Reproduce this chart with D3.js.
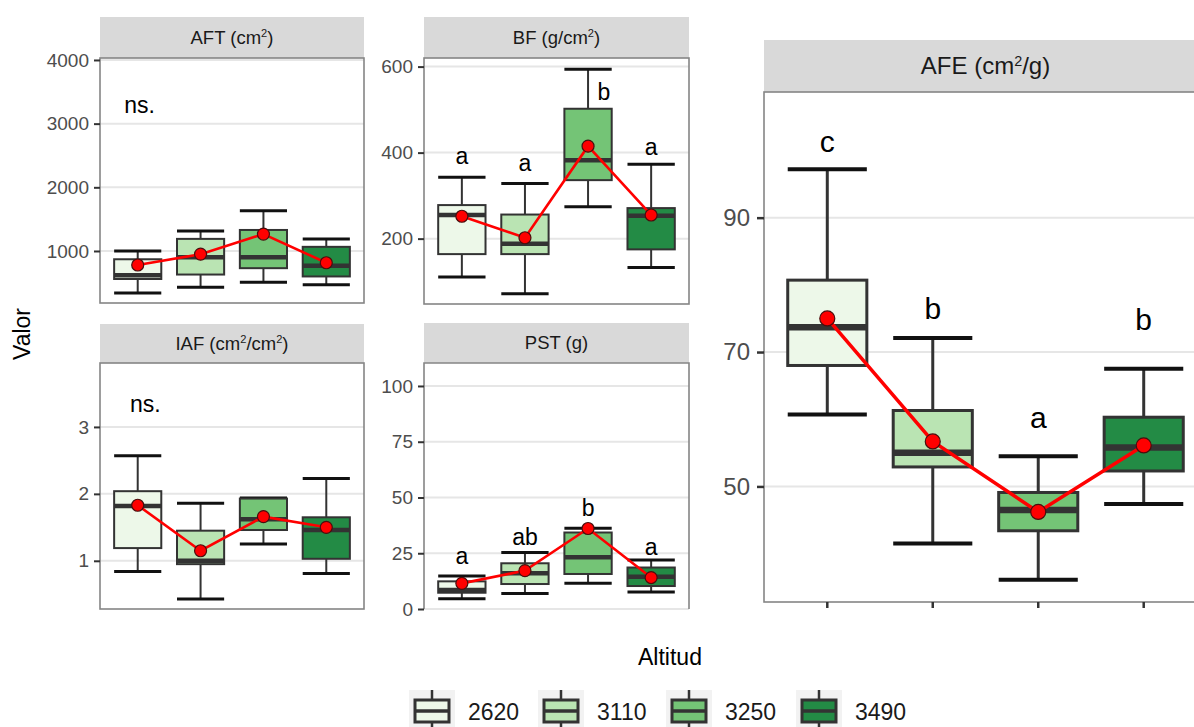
<!DOCTYPE html>
<html>
<head>
<meta charset="utf-8">
<script src="https://cdn.jsdelivr.net/npm/d3@7"></script>
<style>
  body { margin: 0; background: #fff; }
  svg { display: block; font-family: "Liberation Sans", Arial, sans-serif; }
</style>
</head>
<body>
<svg id="chart" width="1194" height="727"></svg>
<script>
// data

var altitudes = ["2620", "3110", "3250", "3490"];
var greens = ["#edf8e9", "#bae4b3", "#74c476", "#238b45"];

// one row per altitude: [whisker low, q1, median, q3, whisker high, mean]
var aftBoxes = [[340, 560, 620, 870, 1000, 780], [430, 630, 900, 1190, 1315, 950],
                [510, 730, 900, 1330, 1630, 1265], [470, 600, 770, 1065, 1190, 815]];
var bfBoxes  = [[111, 164, 255, 278, 343, 252], [72, 164, 188, 256, 328, 202],
                [274, 336, 382, 502, 594, 415], [133, 175, 253, 271, 373, 255]];
var iafBoxes = [[0.84, 1.19, 1.82, 2.04, 2.57, 1.83], [0.43, 0.95, 1.0, 1.45, 1.86, 1.15],
                [1.25, 1.46, 1.62, 1.93, 1.94, 1.66], [0.81, 1.03, 1.46, 1.65, 2.23, 1.50]];
var pstBoxes = [[4.6, 7.3, 8.5, 12.4, 14.8, 11.5], [7.0, 11.2, 16.0, 20.5, 25.3, 17.2],
                [11.5, 15.7, 23.2, 34.3, 36.2, 36.1], [7.6, 10.3, 14.5, 18.6, 22.0, 14.1]];
var afeBoxes = [[60.7, 68.0, 73.7, 80.7, 97.2, 75.0], [41.5, 52.9, 55.0, 61.3, 72.1, 56.7],
                [36.1, 43.4, 46.5, 49.1, 54.5, 46.2], [47.4, 52.3, 55.8, 60.3, 67.5, 56.1]];

// significance letters (x in group units, y in data units)
var bfLetters  = ["a", "a", "b", "a"];
var bfLetterX  = [1, 2, 3.25, 4];
var bfLetterY  = [392, 376, 541, 413];
var pstLetters = ["a", "ab", "b", "a"];
var pstLetterX = [1, 2, 3, 4];
var pstLetterY = [23.9, 32.4, 45.3, 27.8];
var afeLetters = ["c", "b", "a", "b"];
var afeLetterX = [1, 2, 3, 4];
var afeLetterY = [101.3, 76.5, 60.2, 74.8];
var aftNote = {text: "ns.", x: 1.03, y: 3300};
var iafNote = {text: "ns.", x: 1.12, y: 3.34};

// tick labels
var aftTicks = [1000, 2000, 3000, 4000];
var bfTicks  = [200, 400, 600];
var iafTicks = [1, 2, 3];
var pstTicks = [0, 25, 50, 75, 100];
var afeTicks = [50, 70, 90];

// layout

var svg = d3.select("#chart");

var small = {tick: 19, strip: 18.5, letter: 23, box: 2, med: 4.5, cap: 3, line: 2.6, r: 6};
var big   = {tick: 24, strip: 24, letter: 30, box: 3, med: 6.5, cap: 4, line: 3.5, r: 7.5};

var panels = [
  {title: ["AFT (cm", "2", ")"], boxes: aftBoxes, ticks: aftTicks, domain: [183, 4031],
   left: 100, right: 364, stripTop: 17, top: 58, bottom: 303, st: small, note: aftNote},
  {title: ["BF (g/cm", "2", ")"], boxes: bfBoxes, ticks: bfTicks, domain: [48, 620],
   left: 424, right: 689, stripTop: 17, top: 58, bottom: 304, st: small,
   letters: bfLetters, lx: bfLetterX, ly: bfLetterY},
  {title: ["IAF (cm", "2", "/cm", "2", ")"], boxes: iafBoxes, ticks: iafTicks, domain: [0.28, 3.955],
   left: 100, right: 364, stripTop: 324, top: 363, bottom: 609, st: small, note: iafNote},
  {title: ["PST (g)"], boxes: pstBoxes, ticks: pstTicks, domain: [0, 110.3],
   left: 424, right: 689, stripTop: 323, top: 363, bottom: 609, st: small, noBottom: true,
   letters: pstLetters, lx: pstLetterX, ly: pstLetterY},
  {title: ["AFE (cm", "2", "/g)"], boxes: afeBoxes, ticks: afeTicks, domain: [32.8, 108.7],
   left: 764, right: 1207, stripTop: 40, top: 92, bottom: 602, st: big, xTicks: true,
   letters: afeLetters, lx: afeLetterX, ly: afeLetterY}
];

function drawPanel(p) {
  var g = svg.append("g");
  var st = p.st;

  var x = d3.scaleLinear().domain([0.4, 4.6]).range([p.left, p.right]);
  var y = d3.scaleLinear().domain(p.domain).range([p.bottom, p.top]);
  var bw = x(1.75) - x(1);

  // strip
  g.append("rect")
    .attr("x", p.left).attr("y", p.stripTop)
    .attr("width", p.right - p.left).attr("height", p.top - p.stripTop)
    .style("fill", "#d9d9d9");

  var title = g.append("text")
    .attr("x", (p.left + p.right) / 2)
    .attr("y", (p.stripTop + p.top) / 2)
    .attr("dy", "0.35em")
    .attr("text-anchor", "middle")
    .style("font-size", st.strip + "px")
    .style("fill", "#1a1a1a");
  p.title.forEach(function(s) {
    var sup = (s === "2");
    title.append("tspan")
      .attr("baseline-shift", sup ? "60%" : null)
      .style("font-size", sup ? (st.strip * 0.6) + "px" : null)
      .text(s);
  });

  // grid
  g.selectAll(".grid").data(p.ticks).enter().append("line")
    .attr("x1", p.left).attr("x2", p.right)
    .attr("y1", d => y(d)).attr("y2", d => y(d))
    .style("stroke", "#e6e6e6").style("stroke-width", 2);

  // border
  if (p.noBottom) {
    g.append("path")
      .attr("d", "M" + p.left + "," + p.bottom + "V" + p.top + "H" + p.right + "V" + p.bottom)
      .style("fill", "none").style("stroke", "#858585").style("stroke-width", 1.6);
  } else {
    g.append("rect")
      .attr("x", p.left).attr("y", p.top)
      .attr("width", p.right - p.left).attr("height", p.bottom - p.top)
      .style("fill", "none").style("stroke", "#858585").style("stroke-width", 1.6);
  }

  // y axis
  var yAxis = g.append("g")
    .attr("transform", "translate(" + p.left + ",0)")
    .call(d3.axisLeft(y).tickValues(p.ticks).tickFormat(d3.format("d"))
      .tickSize(st === big ? 7 : 6).tickPadding(st === big ? 7 : 5));
  yAxis.select(".domain").remove();
  yAxis.selectAll(".tick line").style("stroke", "#333").style("stroke-width", st === big ? 2.5 : 2);
  yAxis.selectAll(".tick text")
    .style("font-size", st.tick + "px")
    .style("font-family", "'Liberation Sans', Arial, sans-serif")
    .style("fill", "#4d4d4d");

  if (p.xTicks) {
    g.selectAll(".xtick").data(altitudes).enter().append("line")
      .attr("x1", (d, i) => x(i + 1)).attr("x2", (d, i) => x(i + 1))
      .attr("y1", p.bottom).attr("y2", p.bottom + 6)
      .style("stroke", "#333").style("stroke-width", 2.5);
  }

  // boxes
  var box = g.selectAll(".box").data(p.boxes).enter().append("g");

  box.append("line")
    .attr("x1", (d, i) => x(i + 1)).attr("x2", (d, i) => x(i + 1))
    .attr("y1", d => y(d[0])).attr("y2", d => y(d[4]))
    .style("stroke", "#333").style("stroke-width", st.box);

  box.append("line")
    .attr("x1", (d, i) => x(i + 1) - bw / 2).attr("x2", (d, i) => x(i + 1) + bw / 2)
    .attr("y1", d => y(d[4])).attr("y2", d => y(d[4]))
    .style("stroke", "#111").style("stroke-width", st.cap);
  box.append("line")
    .attr("x1", (d, i) => x(i + 1) - bw / 2).attr("x2", (d, i) => x(i + 1) + bw / 2)
    .attr("y1", d => y(d[0])).attr("y2", d => y(d[0]))
    .style("stroke", "#111").style("stroke-width", st.cap);

  box.append("rect")
    .attr("x", (d, i) => x(i + 1) - bw / 2)
    .attr("y", d => y(d[3]))
    .attr("width", bw)
    .attr("height", d => y(d[1]) - y(d[3]))
    .style("fill", (d, i) => greens[i])
    .style("stroke", "#333").style("stroke-width", st.box);

  box.append("line")
    .attr("x1", (d, i) => x(i + 1) - bw / 2).attr("x2", (d, i) => x(i + 1) + bw / 2)
    .attr("y1", d => y(d[2])).attr("y2", d => y(d[2]))
    .style("stroke", "#333").style("stroke-width", st.med);

  // means
  var meanLine = d3.line()
    .x((d, i) => x(i + 1))
    .y(d => y(d[5]));

  g.append("path")
    .attr("d", meanLine(p.boxes))
    .style("fill", "none").style("stroke", "#ff0000").style("stroke-width", st.line);

  g.selectAll(".mean").data(p.boxes).enter().append("circle")
    .attr("cx", (d, i) => x(i + 1))
    .attr("cy", d => y(d[5]))
    .attr("r", st.r)
    .style("fill", "#ff0000").style("stroke", "#4a0d0d").style("stroke-width", 1.2);

  // letters
  if (p.letters) {
    g.selectAll(".letter").data(p.letters).enter().append("text")
      .attr("x", (d, i) => x(p.lx[i]))
      .attr("y", (d, i) => y(p.ly[i]))
      .attr("dy", "0.35em")
      .attr("text-anchor", "middle")
      .style("font-size", st.letter + "px")
      .style("fill", "#000")
      .text(d => d);
  }
  if (p.note) {
    g.append("text")
      .attr("x", x(p.note.x))
      .attr("y", y(p.note.y))
      .attr("dy", "0.35em")
      .attr("text-anchor", "middle")
      .style("font-size", st.letter + "px")
      .style("fill", "#000")
      .text(p.note.text);
  }
}

panels.forEach(drawPanel);

// axis titles
svg.append("text")
  .attr("transform", "translate(22,334) rotate(-90)")
  .attr("dy", "0.35em")
  .attr("text-anchor", "middle")
  .style("font-size", "23px")
  .text("Valor");

svg.append("text")
  .attr("x", 670).attr("y", 657)
  .attr("dy", "0.35em")
  .attr("text-anchor", "middle")
  .style("font-size", "23px")
  .text("Altitud");

// legend
var keyX = [409, 538, 666, 796];
var legend = svg.selectAll(".key").data(altitudes).enter().append("g")
  .attr("transform", (d, i) => "translate(" + keyX[i] + ",690)");

legend.append("rect")
  .attr("width", 46).attr("height", 46)
  .style("fill", "#f2f2f2");
legend.append("line")
  .attr("x1", 23).attr("x2", 23).attr("y1", 0).attr("y2", 46)
  .style("stroke", "#333").style("stroke-width", 2.5);
legend.append("rect")
  .attr("x", 6).attr("y", 10).attr("width", 34).attr("height", 22)
  .style("fill", (d, i) => greens[i])
  .style("stroke", "#333").style("stroke-width", 3);
legend.append("line")
  .attr("x1", 6).attr("x2", 40).attr("y1", 21).attr("y2", 21)
  .style("stroke", "#333").style("stroke-width", 3.5);
legend.append("text")
  .attr("x", 59).attr("y", 22)
  .attr("dy", "0.35em")
  .style("font-size", "23px")
  .style("fill", "#1a1a1a")
  .text(d => d);
</script>
</body>
</html>
